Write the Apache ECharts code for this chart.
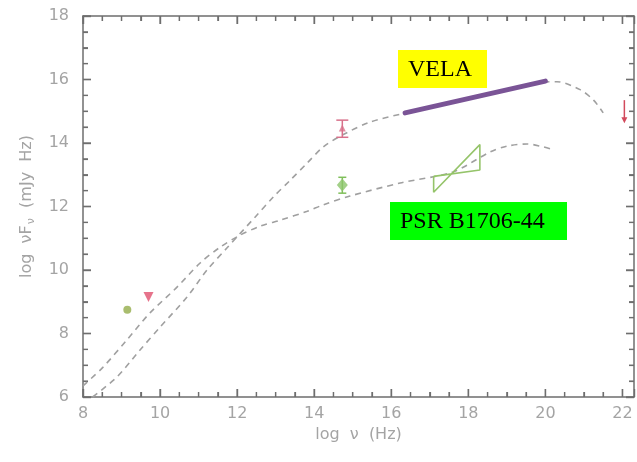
<!DOCTYPE html>
<html>
<head>
<meta charset="utf-8">
<script src="https://cdn.jsdelivr.net/npm/echarts@6/dist/echarts.min.js"></script>
<style>
  html, body { margin: 0; padding: 0; background: #fff; }
  #chart { width: 637px; height: 462px; }
</style>
</head>
<body>
<div id="chart"></div>
<script>
// Broad-band spectra (log nu vs log nuF_nu) of two pulsars.
const xRange = [8, 22.3];
const yRange = [6, 18];
const tickStep = 2;
const minorStep = 0.5;

// Model curve through the Vela points
const velaModel = [
  [8.25, 6.0], [8.88, 6.63], [9.48, 7.48], [10.0, 8.2], [10.7, 9.15],
  [11.22, 10.0], [11.74, 10.7], [12.47, 11.67], [12.94, 12.3], [13.38, 12.83],
  [13.82, 13.37], [14.23, 13.87], [14.73, 14.25], [15.45, 14.66], [16.36, 14.94],
  [18.2, 15.45], [20.0, 15.92], [20.3, 15.93], [20.9, 15.68], [21.25, 15.35],
  [21.5, 14.95]
];
// Model curve through the PSR B1706-44 points
const psrModel = [
  [8.0, 6.35], [8.52, 6.94], [9.14, 7.8], [9.74, 8.65], [10.44, 9.46],
  [11.04, 10.22], [11.56, 10.72], [12.08, 11.1], [12.6, 11.38], [13.12, 11.57],
  [13.82, 11.85], [14.23, 12.05], [14.93, 12.33], [16.23, 12.74], [17.6, 13.09],
  [18.57, 13.72], [19.0, 13.9], [19.53, 13.97], [19.87, 13.9], [20.18, 13.8]
];

// Vela high-energy power law segment
const velaGamma = [[16.36, 14.95], [20.0, 15.95]];
// PSR B1706-44 X-ray bow tie (two slopes joined by end caps)
const psrBowtie = [
  [17.1, 12.95], [17.1, 12.45], [18.3, 13.95], [18.3, 13.15], [17.1, 12.95]
];

// Radio points
const velaRadio = [[9.7, 9.15]];
const psrRadio = [[9.15, 8.75]];
// Optical points with error bars: [x, value, low, high]
const velaOptical = [[14.73, 14.47, 14.18, 14.72]];
const psrOptical = [[14.73, 12.68, 12.42, 12.92]];
// Upper limit: [x, top, tip]
const velaLimit = [[22.05, 15.35, 14.62]];

const axisGray = '#6e6e6e';
const labelGray = '#a4a4a4';
const curveGray = '#a0a0a0';

const chart = echarts.init(document.getElementById('chart'));

function errorBar(color, capHalf) {
  return function (params, api) {
    const x = api.value(0);
    const lo = api.coord([x, api.value(2)]);
    const hi = api.coord([x, api.value(3)]);
    const style = { stroke: color, lineWidth: 1.5 };
    return {
      type: 'group',
      children: [
        { type: 'line', shape: { x1: lo[0], y1: lo[1], x2: hi[0], y2: hi[1] }, style },
        { type: 'line', shape: { x1: lo[0] - capHalf, y1: lo[1], x2: lo[0] + capHalf, y2: lo[1] }, style },
        { type: 'line', shape: { x1: hi[0] - capHalf, y1: hi[1], x2: hi[0] + capHalf, y2: hi[1] }, style }
      ]
    };
  };
}

function upperLimit(params, api) {
  const x = api.value(0);
  const top = api.coord([x, api.value(1)]);
  const tip = api.coord([x, api.value(2)]);
  const color = '#d24a5c';
  return {
    type: 'group',
    children: [
      { type: 'line', shape: { x1: top[0], y1: top[1], x2: tip[0], y2: tip[1] - 4 },
        style: { stroke: color, lineWidth: 1.5 } },
      { type: 'polygon', shape: { points: [[tip[0] - 3, tip[1] - 6], [tip[0] + 3, tip[1] - 6], [tip[0], tip[1]]] },
        style: { fill: color } }
    ]
  };
}

function axisStyle() {
  return {
    axisLine: { show: true, onZero: false, lineStyle: { color: axisGray, width: 1.5 } },
    axisTick: { show: true, inside: true, length: 8, lineStyle: { color: axisGray, width: 1.4 } },
    minorTick: { show: true, splitNumber: 4, length: 5, lineStyle: { color: axisGray, width: 1.2 } },
    splitLine: { show: false },
    minorSplitLine: { show: false }
  };
}

const labelFont = { color: labelGray, fontSize: 16, fontFamily: 'DejaVu Sans' };

const labelBoxes = [
  {
    type: 'group', left: 398, top: 50, children: [
      { type: 'rect', shape: { x: 0, y: 0, width: 89, height: 38 }, style: { fill: '#ffff00' } },
      { type: 'text', x: 10, y: 20, style: { text: 'VELA', fill: '#000', font: '24px "Liberation Serif", serif',
        textAlign: 'left', textVerticalAlign: 'middle' } }
    ]
  },
  {
    type: 'group', left: 390, top: 202, children: [
      { type: 'rect', shape: { x: 0, y: 0, width: 177, height: 38 }, style: { fill: '#00ff00' } },
      { type: 'text', x: 10, y: 20, style: { text: 'PSR B1706-44', fill: '#000', font: '24px "Liberation Serif", serif',
        textAlign: 'left', textVerticalAlign: 'middle' } }
    ]
  }
];

chart.setOption({
  animation: false,
  backgroundColor: '#ffffff',
  grid: { left: 83, right: 3, top: 16, bottom: 65 },
  xAxis: [
    Object.assign(axisStyle(), {
      type: 'value', min: xRange[0], max: xRange[1], interval: tickStep, position: 'bottom',
      name: 'log  \u03bd  (Hz)', nameLocation: 'middle', nameGap: 30,
      nameTextStyle: labelFont,
      axisLabel: Object.assign({ margin: 9, showMaxLabel: false }, labelFont)
    }),
    Object.assign(axisStyle(), {
      type: 'value', min: xRange[0], max: xRange[1], interval: tickStep, position: 'top',
      axisLabel: { show: false }
    })
  ],
  yAxis: [
    Object.assign(axisStyle(), {
      type: 'value', min: yRange[0], max: yRange[1], interval: tickStep, position: 'left',
      name: '{n|log  \u03bdF}{s|\u03bd}{n|  (mJy  Hz)}', nameLocation: 'middle', nameGap: 46,
      nameTextStyle: {
        rich: {
          n: labelFont,
          s: { color: labelGray, fontSize: 11, fontFamily: 'DejaVu Sans', verticalAlign: 'bottom', padding: [10, 0, 0, 1] }
        }
      },
      axisLabel: Object.assign({ margin: 14 }, labelFont)
    }),
    Object.assign(axisStyle(), {
      type: 'value', min: yRange[0], max: yRange[1], interval: tickStep, position: 'right',
      axisLabel: { show: false }
    })
  ],
  series: [
    {
      type: 'line', data: velaModel, smooth: 0.3, symbol: 'none',
      lineStyle: { color: curveGray, width: 1.6, type: [6, 5] }, z: 2
    },
    {
      type: 'line', data: psrModel, smooth: 0.3, symbol: 'none',
      lineStyle: { color: curveGray, width: 1.6, type: [6, 5] }, z: 2
    },
    {
      type: 'line', data: velaGamma, symbol: 'none',
      lineStyle: { color: '#7a5496', width: 5, cap: 'round' }, z: 4
    },
    {
      type: 'line', data: psrBowtie, symbol: 'none',
      lineStyle: { color: '#95c46a', width: 1.6 }, z: 4
    },
    {
      type: 'scatter', data: velaRadio, symbol: 'triangle', symbolRotate: 180, symbolSize: 10,
      itemStyle: { color: '#e0506e' }, z: 5
    },
    {
      type: 'scatter', data: psrRadio, symbol: 'circle', symbolSize: 8,
      itemStyle: { color: '#94ad4a' }, z: 5
    },
    {
      type: 'custom', renderItem: errorBar('#d8708a', 6), data: velaOptical,
      encode: { x: 0, y: 1 }, z: 5
    },
    {
      type: 'scatter', data: velaOptical.map(d => [d[0], d[1]]), symbol: 'triangle', symbolSize: 7,
      itemStyle: { color: '#d8708a' }, z: 6
    },
    {
      type: 'custom', renderItem: errorBar('#7fbf5a', 4), data: psrOptical,
      encode: { x: 0, y: 1 }, z: 5
    },
    {
      type: 'scatter', data: psrOptical.map(d => [d[0], d[1]]), symbol: 'diamond', symbolSize: [11, 13],
      itemStyle: { color: '#8cc46a' }, z: 6
    },
    {
      type: 'custom', renderItem: upperLimit, data: velaLimit,
      encode: { x: 0, y: [1, 2] }, z: 5
    }
  ],
  graphic: labelBoxes
});

// Inward frame ticks on all four sides, placed through the axes' own scales
const toPx = p => chart.convertToPixel({ xAxisIndex: 0, yAxisIndex: 0 }, p);
const corner0 = toPx([xRange[0], yRange[0]]);
const corner1 = toPx([xRange[1], yRange[1]]);
const tickLines = [];
const tickStyle = { stroke: axisGray, lineWidth: 1.3 };
for (let v = xRange[0]; v <= xRange[1] + 1e-9; v += minorStep) {
  const len = Math.abs(v % tickStep) < 1e-9 ? 8 : 5;
  const px = toPx([v, yRange[0]])[0];
  tickLines.push({ type: 'line', shape: { x1: px, y1: corner0[1], x2: px, y2: corner0[1] - len }, style: tickStyle });
  tickLines.push({ type: 'line', shape: { x1: px, y1: corner1[1], x2: px, y2: corner1[1] + len }, style: tickStyle });
}
for (let v = yRange[0]; v <= yRange[1] + 1e-9; v += minorStep) {
  const len = Math.abs(v % tickStep) < 1e-9 ? 8 : 5;
  const py = toPx([xRange[0], v])[1];
  tickLines.push({ type: 'line', shape: { x1: corner0[0], y1: py, x2: corner0[0] + len, y2: py }, style: tickStyle });
  tickLines.push({ type: 'line', shape: { x1: corner1[0], y1: py, x2: corner1[0] - len, y2: py }, style: tickStyle });
}
chart.setOption({
  graphic: labelBoxes.concat([{ type: 'group', silent: true, z: 100, children: tickLines }])
});
</script>
</body>
</html>
